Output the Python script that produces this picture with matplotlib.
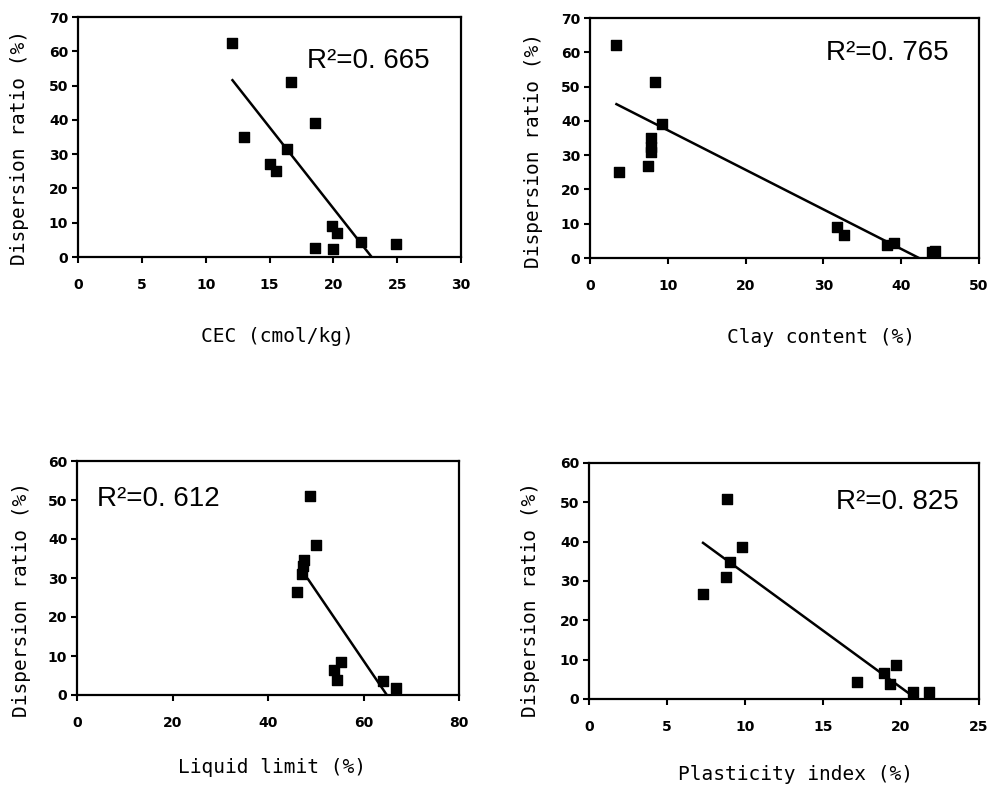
import numpy as np
import matplotlib.pyplot as plt

# values
cec_x = [12.1, 13.0, 16.7, 18.6, 16.4, 15.0, 15.5, 19.9, 20.3, 18.6, 20.0, 22.2, 24.9]
cec_y = [62.5, 34.9, 51.0, 39.0, 31.5, 27.2, 25.2, 9.1, 7.0, 2.6, 2.3, 4.4, 3.9]
cec_fit = [-4.73, 108.8]      # slope, intercept
cec_r2 = "0. 665"

clay_x = [3.4, 3.7, 8.4, 9.2, 7.8, 7.8, 7.8, 7.5, 31.7, 32.6, 38.2, 39.1, 44.0, 44.4]
clay_y = [62.0, 25.2, 51.2, 39.0, 34.9, 32.5, 31.0, 26.9, 9.1, 6.6, 3.9, 4.4, 1.8, 2.0]
clay_fit = [-1.154, 48.8]
clay_r2 = "0. 765"

ll_x = [48.8, 50.0, 47.5, 47.4, 47.2, 46.0, 55.2, 53.9, 54.4, 64.1, 66.9]
ll_y = [50.9, 38.4, 34.7, 33.0, 31.1, 26.4, 8.5, 6.5, 3.9, 3.5, 1.8]
ll_fit = [-1.80, 116.8]
ll_fit_start = 48.4
ll_r2 = "0. 612"

pi_x = [8.87, 9.79, 9.04, 8.76, 7.31, 17.2, 18.9, 19.66, 19.3, 20.8, 21.8]
pi_y = [50.9, 38.6, 34.8, 31.0, 26.8, 4.2, 6.6, 8.7, 3.9, 1.8, 1.8]
pi_fit = [-2.90, 60.9]
pi_r2 = "0. 825"

label_font = "DejaVu Sans Mono"
r2_font = "Liberation Sans"

fig = plt.figure(figsize=(9.92, 7.89), dpi=100)
W, H = 992, 789


def make_ax(l, t, r, b):
    return fig.add_axes([l / W, 1 - b / H, (r - l) / W, (b - t) / H])


panels = [
    dict(box=(78, 17, 461, 257), x=cec_x, y=cec_y, fit=cec_fit, start=min(cec_x),
         xmax=30, xstep=5, ymax=70, xlabel="CEC (cmol/kg)", r2=cec_r2,
         r2pos=(0.598, 0.817), xlab_pos=(0.52, -0.33), ylab_pos=(-0.154, 0.458)),
    dict(box=(590, 18, 979, 258), x=clay_x, y=clay_y, fit=clay_fit, start=min(clay_x),
         xmax=50, xstep=10, ymax=70, xlabel="Clay content (%)", r2=clay_r2,
         r2pos=(0.607, 0.854), xlab_pos=(0.595, -0.33), ylab_pos=(-0.144, 0.45)),
    dict(box=(77, 461, 459, 695), x=ll_x, y=ll_y, fit=ll_fit, start=ll_fit_start,
         xmax=80, xstep=20, ymax=60, xlabel="Liquid limit (%)", r2=ll_r2,
         r2pos=(0.052, 0.838), xlab_pos=(0.51, -0.31), ylab_pos=(-0.144, 0.41)),
    dict(box=(589, 463, 979, 699), x=pi_x, y=pi_y, fit=pi_fit, start=min(pi_x),
         xmax=25, xstep=5, ymax=60, xlabel="Plasticity index (%)", r2=pi_r2,
         r2pos=(0.633, 0.835), xlab_pos=(0.53, -0.32), ylab_pos=(-0.149, 0.42)),
]

for p in panels:
    ax = make_ax(*p["box"])
    ax.scatter(p["x"], p["y"], marker="s", s=55, color="black", zorder=3)
    slope, icpt = p["fit"]
    xs = np.array([p["start"], max(p["x"])])
    ax.plot(xs, slope * xs + icpt, color="black", lw=1.8, zorder=2)
    ax.set_xlim(0, p["xmax"])
    ax.set_ylim(0, p["ymax"])
    ax.set_xticks(np.arange(0, p["xmax"] + 1, p["xstep"]))
    ax.set_yticks(np.arange(0, p["ymax"] + 1, 10))
    ax.tick_params(direction="out", length=4, width=1.5, labelsize=10)
    ax.tick_params(axis="x", pad=11)
    ax.tick_params(axis="y", pad=3)
    for lab in ax.get_xticklabels() + ax.get_yticklabels():
        lab.set_fontweight("bold")
    for s in ax.spines.values():
        s.set_linewidth(1.6)
    ax.text(p["r2pos"][0], p["r2pos"][1], "R²=" + p["r2"], transform=ax.transAxes,
            fontsize=20, family=r2_font, va="center", ha="left")
    ax.text(p["xlab_pos"][0], p["xlab_pos"][1], p["xlabel"], transform=ax.transAxes,
            fontsize=14, family=label_font, ha="center", va="center")
    ax.text(p["ylab_pos"][0], p["ylab_pos"][1], "Dispersion ratio (%)", transform=ax.transAxes,
            fontsize=14, family=label_font, ha="center", va="center", rotation=90)

fig.savefig("out.png", dpi=100)
